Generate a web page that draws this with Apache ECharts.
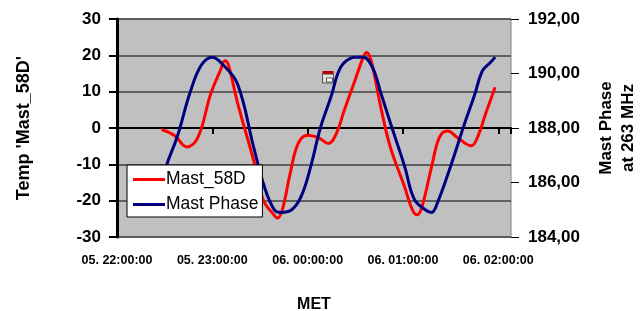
<!DOCTYPE html>
<html>
<head>
<meta charset="utf-8">
<script src="https://cdn.jsdelivr.net/npm/echarts@6/dist/echarts.min.js"></script>
<style>
  html, body { margin: 0; padding: 0; background: #fff; }
  #chart { width: 643px; height: 311px; }
</style>
</head>
<body>
<div id="chart"></div>
<script>
// x ticks (hourly, from 05. 22:00)
const tickLabels = ['05. 22:00:00', '05. 23:00:00', '06. 00:00:00', '06. 01:00:00', '06. 02:00:00'];

// Mast_58D temperature (left axis)
const tempTimes = ['22:28', '22:36', '22:44', '22:51', '22:59', '23:05', '23:08', '23:10', '23:16', '23:26',
  '23:32', '23:38', '23:41', '23:44', '23:49', '23:54', '00:00', '00:07', '00:13', '00:18',
  '00:23', '00:29', '00:35', '00:37', '00:40', '00:46', '00:52', '01:01', '01:06', '01:09',
  '01:12', '01:18', '01:23', '01:28', '01:35', '01:43', '01:47', '01:52', '01:58'];
const tempValues = [-0.4, -2.0, -5.2, -2.5, 9.4, 15.8, 18.5, 17.6, 6.7, -8.9,
  -19.8, -23.5, -24.8, -22.6, -12.5, -4.3, -2.0, -2.7, -4.3, -1.6,
  4.8, 12.1, 19.5, 20.8, 18.5, 5.8, -5.2, -16.2, -22.6, -23.9,
  -21.6, -10.7, -2.5, -0.8, -2.9, -4.9, -2.5, 3.9, 11.2];

// Mast Phase at 263 MHz (right axis)
const phaseTimes = ['22:28', '22:31', '22:38', '22:46', '22:53', '23:00', '23:07', '23:16', '23:26', '23:33',
  '23:39', '23:43', '23:50', '23:56', '00:02', '00:08', '00:15', '00:19', '00:23', '00:30',
  '00:35', '00:41', '00:46', '00:52', '01:01', '01:07', '01:14', '01:18', '01:22', '01:30',
  '01:39', '01:45', '01:50', '01:55', '01:58'];
const phaseValues = [185.9, 186.6, 187.7, 189.3, 190.3, 190.6, 190.3, 189.6, 187.3, 185.8,
  185.0, 184.9, 185.0, 185.5, 186.6, 188.0, 189.2, 190.0, 190.4, 190.6,
  190.6, 190.2, 189.3, 188.2, 186.6, 185.4, 185.0, 184.9, 185.3, 186.6,
  188.2, 189.2, 190.1, 190.4, 190.6];

// minutes since 05. 22:00
function toMin(t) {
  var p = t.split(':');
  var h = +p[0], m = +p[1];
  return (h >= 22 ? h - 22 : h + 2) * 60 + m;
}
function pairs(times, vals) {
  return times.map(function (t, i) { return [toMin(t), vals[i]]; });
}

const font = 'Liberation Sans, Arial, sans-serif';
const chart = echarts.init(document.getElementById('chart'));

chart.setOption({
  animation: false,
  grid: {
    left: 117, right: 132, top: 19, bottom: 74,
    outerBoundsMode: 'none', containLabel: false,
    show: true, backgroundColor: '#c0c0c0', borderColor: '#808080', borderWidth: 1
  },
  legend: {
    left: 127, top: 165, orient: 'vertical',
    backgroundColor: '#fff', borderColor: '#000', borderWidth: 1,
    padding: [5, 4, 3, 6], itemGap: 6, itemWidth: 32, itemHeight: 3, icon: 'rect',
    textStyle: { fontFamily: font, fontSize: 17.5, color: '#000', padding: [0, 0, 0, -4], lineHeight: 19 },
    data: ['Mast_58D', 'Mast Phase']
  },
  xAxis: {
    type: 'value', min: 0, max: 248, interval: 60,
    name: 'MET', nameLocation: 'middle', nameGap: 60,
    nameTextStyle: { fontFamily: font, fontSize: 16, fontWeight: 'bold', color: '#000' },
    axisLine: { lineStyle: { color: '#000', width: 2 } },
    axisTick: { inside: false, length: 6, lineStyle: { color: '#000', width: 2 } },
    splitLine: { show: false },
    axisLabel: {
      fontFamily: font, fontSize: 12.5, fontWeight: 'bold', color: '#000', margin: 17,
      formatter: function (v) { return tickLabels[v / 60] || ''; }
    }
  },
  yAxis: [{
    type: 'value', min: -30, max: 30, interval: 10, position: 'left',
    name: "Temp 'Mast_58D'", nameLocation: 'middle', nameGap: 84, nameRotate: 90,
    nameTextStyle: { fontFamily: font, fontSize: 18, fontWeight: 'bold', color: '#000' },
    axisLine: { show: true, lineStyle: { color: '#000', width: 3 } },
    axisTick: { show: true, length: 8, lineStyle: { color: '#000', width: 2 } },
    splitLine: { lineStyle: { color: '#404040', width: 1.5 } },
    axisLabel: { fontFamily: font, fontSize: 17, fontWeight: 'bold', color: '#000', margin: 16 }
  }, {
    type: 'value', min: 184, max: 192, interval: 2, position: 'right',
    name: 'Mast Phase\nat 263 MHz', nameLocation: 'middle', nameGap: 84, nameRotate: 90,
    nameTextStyle: { fontFamily: font, fontSize: 17, fontWeight: 'bold', color: '#000', lineHeight: 22 },
    axisLine: { show: false },
    axisTick: { show: true, length: 8, lineStyle: { color: '#000', width: 1 } },
    splitLine: { show: false },
    axisLabel: {
      fontFamily: font, fontSize: 17, fontWeight: 'bold', color: '#000', margin: 17,
      formatter: function (v) { return v.toFixed(2).replace('.', ','); }
    }
  }],
  series: [{
    name: 'Mast_58D', type: 'line', yAxisIndex: 0, smooth: 0.4, symbol: 'none',
    lineStyle: { color: '#ff0000', width: 3 }, itemStyle: { color: '#ff0000' },
    data: pairs(tempTimes, tempValues)
  }, {
    name: 'Mast Phase', type: 'line', yAxisIndex: 1, smooth: 0.4, symbol: 'none',
    lineStyle: { color: '#000080', width: 3 }, itemStyle: { color: '#000080' },
    data: pairs(phaseTimes, phaseValues)
  }],
  graphic: [{
    type: 'group', left: 322, top: 71, children: [
      { type: 'rect', shape: { x: 0, y: 3, width: 11, height: 9 }, style: { fill: '#e0e0e0', stroke: '#555', lineWidth: 1 } },
      { type: 'rect', shape: { x: 0, y: 0, width: 11, height: 3 }, style: { fill: '#b00000' } },
      { type: 'rect', shape: { x: 4, y: 7, width: 6, height: 4 }, style: { fill: '#fff', stroke: '#555', lineWidth: 1 } }
    ]
  }]
});
</script>
</body>
</html>
